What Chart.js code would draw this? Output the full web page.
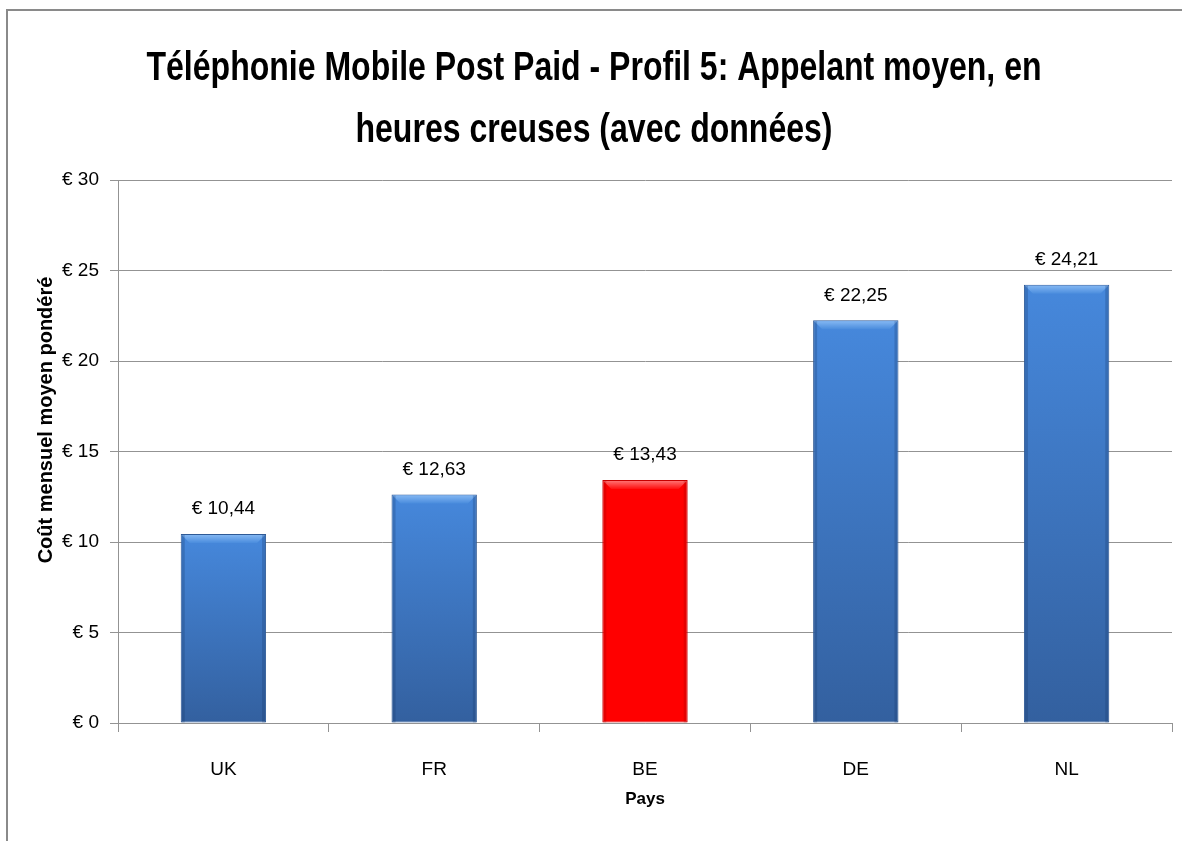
<!DOCTYPE html>
<html lang="fr">
<head>
  <meta charset="UTF-8">
  <title>Téléphonie Mobile Post Paid - Profil 5</title>
  <script src="https://cdn.jsdelivr.net/npm/chart.js"></script>
  <style>
    body {
      margin: 0;
      background: #fff;
      overflow: hidden;
    }

    #frame {
      position: absolute;
      left: 6px;
      top: 9px;
      border-left: 2px solid #8a8a8a;
      border-top: 2px solid #8a8a8a;
      width: 1174px;
      height: 830px;
    }
  </style>
</head>
<body>
  <div id="frame">
    <canvas id="chart" width="1174" height="830"></canvas>
  </div>
  <script>
    // données
    const pays = ['UK', 'FR', 'BE', 'DE', 'NL'];
    const cout = [10.44, 12.63, 13.43, 22.25, 24.21];
    const paysMisEnAvant = 'BE';

    const titre = ['Téléphonie Mobile Post Paid - Profil 5: Appelant moyen, en', 'heures creuses (avec données)'];
    const titreY = 'Coût mensuel moyen pondéré';
    const titreX = 'Pays';

    const police = '"Liberation Sans", Arial, sans-serif';

    const euro = v => '€ ' + v.toFixed(2).replace('.', ',');

    function barFill(ctx) {
      const chart = ctx.chart;
      if (pays[ctx.dataIndex] === paysMisEnAvant) return '#ff0000';
      if (!chart.chartArea) return '#3f7bcc';
      const y = chart.scales.y;
      const top = y.getPixelForValue(cout[ctx.dataIndex]);
      const bottom = y.getPixelForValue(0);
      const g = chart.ctx.createLinearGradient(0, top, 0, bottom);
      g.addColorStop(0, '#4688dc');
      g.addColorStop(1, '#33609f');
      return g;
    }

    // titre (police étroite comme dans l'original) + titre de l'axe Y
    const textes = {
      id: 'textes',
      afterDraw(chart) {
        const c = chart.ctx;
        c.save();
        c.fillStyle = '#000';
        c.font = 'bold 40px ' + police;
        c.textAlign = 'center';
        c.textBaseline = 'alphabetic';
        const sx = 895 / c.measureText(titre[0]).width;
        c.translate(586, 0);
        c.scale(sx, 1);
        c.fillText(titre[0], 0, 69);
        c.fillText(titre[1], 0, 131);
        c.restore();

        c.save();
        c.fillStyle = '#000';
        c.font = 'bold 20px ' + police;
        c.textAlign = 'center';
        c.textBaseline = 'middle';
        c.translate(38, 409);
        c.rotate(-Math.PI / 2);
        c.fillText(titreY, 0, 0);
        c.restore();
      }
    };

    // biseau en haut des barres + étiquettes de valeur
    const decor = {
      id: 'decor',
      afterDatasetsDraw(chart) {
        const c = chart.ctx;
        const meta = chart.getDatasetMeta(0);
        meta.data.forEach((bar, i) => {
          const red = pays[i] === paysMisEnAvant;
          const half = bar.width / 2;
          const l = bar.x - half + 1, r = bar.x + half - 1, t = bar.y + 1;
          const h = 8;
          const g = c.createLinearGradient(0, t, 0, t + h);
          g.addColorStop(0, red ? '#ff7070' : '#82b6f2');
          g.addColorStop(1, red ? '#ff1010' : '#4a8cdd');
          c.save();
          c.beginPath();
          c.moveTo(l, t);
          c.lineTo(r, t);
          c.lineTo(r - h, t + h);
          c.lineTo(l + h, t + h);
          c.closePath();
          c.fillStyle = g;
          c.fill();
          // bords sombres
          c.fillStyle = red ? 'rgba(150,0,0,0.25)' : 'rgba(20,50,100,0.25)';
          c.fillRect(l, t, 3, bar.base - t);
          c.fillRect(r - 3, t, 3, bar.base - t);

          c.font = '19px ' + police;
          c.fillStyle = '#000';
          c.textAlign = 'center';
          c.textBaseline = 'middle';
          c.fillText(euro(cout[i]), bar.x, bar.y - 25);
          c.restore();
        });
      }
    };

    new Chart(document.getElementById('chart'), {
      type: 'bar',
      data: {
        labels: pays,
        datasets: [{
          data: cout,
          backgroundColor: barFill,
          borderColor: ctx => pays[ctx.dataIndex] === paysMisEnAvant ? '#c80000' : '#2f5a96',
          borderWidth: 1,
          borderSkipped: false,
          categoryPercentage: 1,
          barPercentage: 0.405
        }]
      },
      options: {
        responsive: false,
        animation: false,
        layout: { padding: { left: 0, right: 10, top: 169, bottom: 0 } },
        plugins: {
          legend: { display: false },
          tooltip: { enabled: false },
          title: { display: false }
        },
        scales: {
          x: {
            afterFit: s => { s.height = 118; },
            grid: {
              offset: true,
              drawOnChartArea: false,
              drawTicks: true,
              tickLength: 9,
              color: '#939393'
            },
            border: { color: '#939393', width: 1 },
            ticks: {
              color: '#000',
              padding: 26,
              font: { family: police, size: 19 }
            },
            title: {
              display: true,
              text: titreX,
              color: '#000',
              font: { family: police, size: 17, weight: 'bold' },
              padding: { top: 0, bottom: 31 }
            }
          },
          y: {
            min: 0,
            max: 30,
            afterFit: s => { s.width = 110; },
            grid: {
              color: '#939393',
              drawTicks: true,
              tickLength: 8
            },
            border: { color: '#939393', width: 1 },
            ticks: {
              stepSize: 5,
              color: '#000',
              padding: 11,
              font: { family: police, size: 19 },
              callback: v => '€ ' + v
            }
          }
        }
      },
      plugins: [decor, textes]
    });
  </script>
</body>
</html>
